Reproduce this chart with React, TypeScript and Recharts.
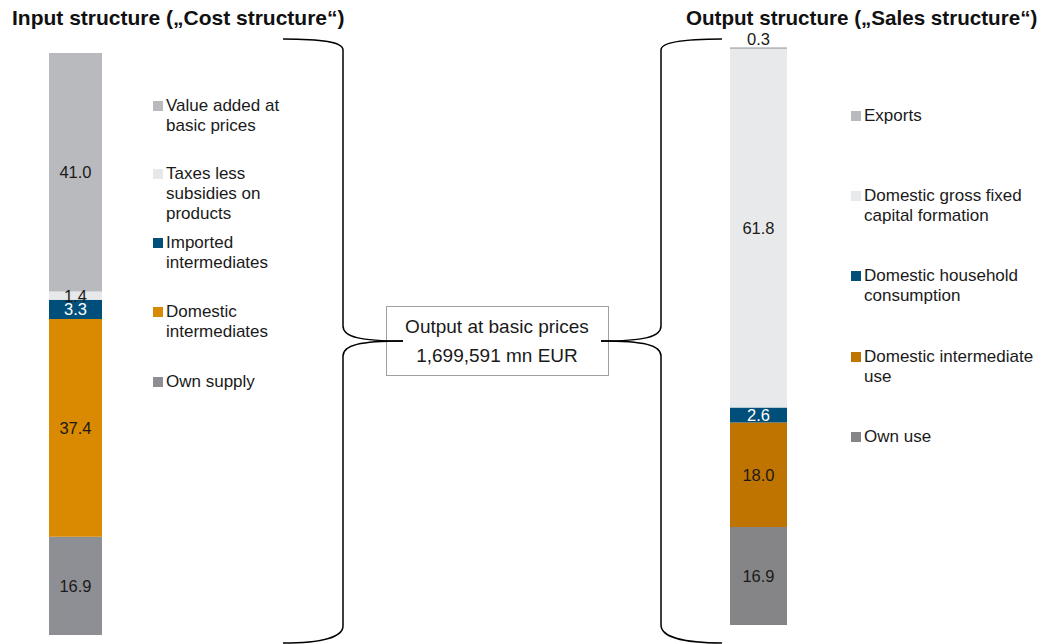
import React from 'react';
import { BarChart, Bar, XAxis, YAxis, LabelList } from 'recharts';

// ---------- data ----------
const inputCategory = ['Input'];
const inputSeriesNames = [
  'Own supply',
  'Domestic intermediates',
  'Imported intermediates',
  'Taxes less subsidies on products',
  'Value added at basic prices',
];
const inputValues = [16.9, 37.4, 3.3, 1.4, 41.0];

const outputCategory = ['Output'];
const outputSeriesNames = [
  'Own use',
  'Domestic intermediate use',
  'Domestic household consumption',
  'Domestic gross fixed capital formation',
  'Exports',
];
const outputValues = [16.9, 18.0, 2.6, 61.8, 0.3];

const leftTitle = 'Input structure (\u201ECost structure\u201C)';
const rightTitle = 'Output structure (\u201ESales structure\u201C)';
const totalLabel = 'Output at basic prices';
const totalValue = 1699591;
const totalUnit = 'mn EUR';

// ---------- styles ----------
const inputColors = ['#8e8f94', '#d98a00', '#004e7a', '#e7e8ea', '#b9babe'];
const inputLabelColors = ['#1a1a1a', '#1a1a1a', '#ffffff', '#1a1a1a', '#1a1a1a'];
const outputColors = ['#858587', '#bf7400', '#004e7a', '#e8e9eb', '#b9babe'];
const outputLabelColors = ['#1a1a1a', '#1a1a1a', '#ffffff', '#1a1a1a', '#1a1a1a'];

const inputLegendTops = [96, 164, 233, 302, 372]; // legend layout, top to bottom
const outputLegendTops = [106, 186, 266, 347, 427];

const FONT = '"Liberation Sans", Arial, Helvetica, sans-serif';

function buildRow(cat: string, names: string[], values: number[]) {
  const row: Record<string, any> = { name: cat };
  names.forEach((n, i) => (row[n] = values[i]));
  return [row];
}

const inputData = buildRow(inputCategory[0], inputSeriesNames, inputValues);
const outputData = buildRow(outputCategory[0], outputSeriesNames, outputValues);

const fmt = (v: any) => Number(v).toFixed(1);

function StackBar(props: {
  data: any[];
  names: string[];
  colors: string[];
  labelColors: string[];
  width: number;
  top: number;
  bottom: number;
  topLabelIndex?: number;
}) {
  const { data, names, colors, labelColors, width, top, bottom, topLabelIndex } = props;
  return (
    <BarChart
      width={width}
      height={644}
      data={data}
      margin={{ top, right: 0, bottom, left: 0 }}
      barCategoryGap={0}
      style={{ overflow: 'visible' }}
    >
      <XAxis dataKey="name" hide />
      <YAxis hide domain={[0, 100]} />
      {names.map((n, i) => (
        <Bar key={n} dataKey={n} stackId="s" fill={colors[i]} isAnimationActive={false}>
          <LabelList
            dataKey={n}
            position={i === topLabelIndex ? 'top' : 'center'}
            offset={i === topLabelIndex ? 2 : 5}
            fill={i === topLabelIndex ? '#1a1a1a' : labelColors[i]}
            fontSize={16.5}
            formatter={fmt}
          />
        </Bar>
      ))}
    </BarChart>
  );
}

function Legend(props: {
  names: string[];
  colors: string[];
  tops: number[];
  left: number;
  textWidth: number;
}) {
  const { names, colors, tops, left, textWidth } = props;
  const order = names.map((_, i) => i).reverse();
  return (
    <>
      {order.map((idx, k) => (
        <div
          key={names[idx]}
          style={{
            position: 'absolute',
            left,
            top: tops[k],
            display: 'flex',
            alignItems: 'flex-start',
            fontSize: 17,
            lineHeight: '20px',
            color: '#1a1a1a',
          }}
        >
          <div
            style={{
              width: 10,
              height: 10,
              background: colors[idx],
              marginTop: 5,
              marginRight: 3,
              flex: 'none',
            }}
          />
          <div style={{ width: textWidth }}>{names[idx]}</div>
        </div>
      ))}
    </>
  );
}

export default function App() {
  return (
    <div
      style={{
        position: 'absolute',
        left: 0,
        top: 0,
        width: 1050,
        height: 644,
        background: '#ffffff',
        fontFamily: FONT,
        overflow: 'hidden',
      }}
    >
      <div
        style={{ position: 'absolute', left: 12, top: 6, fontSize: 21, fontWeight: 'bold', color: '#111', whiteSpace: 'nowrap' }}
      >
        {leftTitle}
      </div>
      <div
        style={{ position: 'absolute', left: 686, top: 6, fontSize: 20.6, fontWeight: 'bold', color: '#111', whiteSpace: 'nowrap' }}
      >
        {rightTitle}
      </div>

      <div style={{ position: 'absolute', left: 49, top: 0 }}>
        <StackBar
          data={inputData}
          names={inputSeriesNames}
          colors={inputColors}
          labelColors={inputLabelColors}
          width={53}
          top={53}
          bottom={9}
        />
      </div>
      <div style={{ position: 'absolute', left: 730, top: 0 }}>
        <StackBar
          data={outputData}
          names={outputSeriesNames}
          colors={outputColors}
          labelColors={outputLabelColors}
          width={57}
          top={45}
          bottom={19}
          topLabelIndex={4}
        />
      </div>

      <Legend names={inputSeriesNames} colors={inputColors} tops={inputLegendTops} left={153} textWidth={128} />
      <Legend names={outputSeriesNames} colors={outputColors} tops={outputLegendTops} left={851} textWidth={180} />

      <svg
        width={1050}
        height={644}
        style={{ position: 'absolute', left: 0, top: 0, pointerEvents: 'none' }}
      >
        <rect x={386.5} y={306.5} width={222} height={69} fill="none" stroke="#a0a0a0" strokeWidth={1} />
        <g fill="none" stroke="#000" strokeWidth={1.5}>
          <path d="M283,39 C322,39 343,42 343,50 L343,326 C343,337 360,341 403,341" />
          <path d="M403,341 C360,341 343,345 343,356 L343,626 C343,637 322,643 283,643" />
          <path d="M722,39 C684,39 661,42 661,50 L661,326 C661,337 644,341 601,341" />
          <path d="M601,341 C644,341 661,345 661,356 L661,625 C661,637 684,643 722,643" />
        </g>
        <text x={497} y={333} textAnchor="middle" fontSize={19} fill="#1a1a1a">
          {totalLabel}
        </text>
        <text x={497} y={362} textAnchor="middle" fontSize={19} fill="#1a1a1a">
          {totalValue.toLocaleString('en-US')} {totalUnit}
        </text>
      </svg>
    </div>
  );
}
